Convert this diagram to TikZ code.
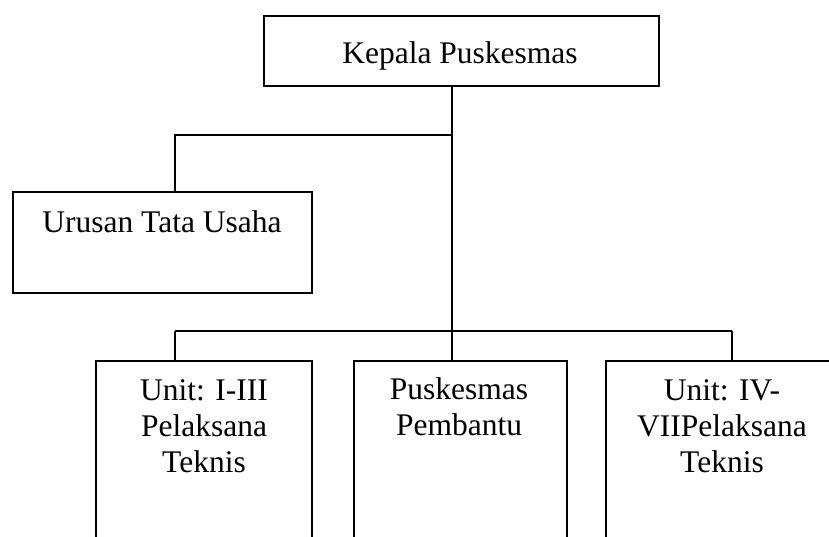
\documentclass[tikz,border=0pt]{standalone}
\usepackage{fontspec}
\setmainfont{Liberation Serif}
\begin{document}
\begin{tikzpicture}[x=1pt,y=-1pt,
  box/.style={draw,line width=1.8pt,rectangle,inner sep=0pt,anchor=north west},
  label/.style={anchor=base,align=center,inner sep=0pt,font=\fontsize{31.5}{36}\selectfont},
  conn/.style={draw,line width=1.8pt}]
\useasboundingbox (0,0) rectangle (829,536);
\clip (0,0) rectangle (829,536);
% boxes
\node[box,minimum width=395pt,minimum height=70pt] (top) at (263,15) {};
\node[box,minimum width=299pt,minimum height=101pt] (urusan) at (12,191) {};
\node[box,minimum width=216pt,minimum height=200pt] (unitA) at (95,360) {};
\node[box,minimum width=213pt,minimum height=200pt] (pusk) at (353,360) {};
\node[box,minimum width=234pt,minimum height=200pt] (unitB) at (605,360) {};
% texts (multi-line nodes: base = last line)
\node[label] (tTop) at (460,63) {Kepala Puskesmas};
\node[label] (tUrusan) at (162,232) {Urusan Tata Usaha};
\node[label] (tUnitA) at (204,472) {Unit: I-III\\Pelaksana\\Teknis};
\node[label] (tPusk) at (459,435) {Puskesmas\\Pembantu};
\node[label] (tUnitB) at (722,472) {Unit: IV-\\VIIPelaksana\\Teknis};
% junctions
\coordinate (j1) at (452,135);
\coordinate (j2) at (452,331);
\coordinate (c1) at (175,135);
\coordinate (c2) at (175,331);
\coordinate (c3) at (732,331);
% connectors
\draw[conn] (top.south -| j1) -- (j2);
\draw[conn] (j1) -- (c1) -- (urusan.north -| c1);
\draw[conn] (c2) -- (c3);
\draw[conn] (c2) -- (unitA.north -| c2);
\draw[conn] (j2) -- (pusk.north -| j2);
\draw[conn] (c3) -- (unitB.north -| c3);
\end{tikzpicture}
\end{document}
